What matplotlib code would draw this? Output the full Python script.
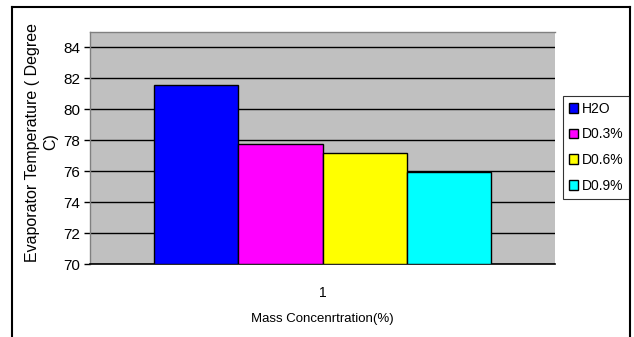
"""Grouped bar chart of evaporator temperature by nanofluid mass concentration."""

import matplotlib.pyplot as plt
import matplotlib as mpl
from matplotlib.lines import Line2D

# Data: one concentration group, four fluids
GROUPS = [1]
SERIES = ["H2O", "D0.3%", "D0.6%", "D0.9%"]
VALUES = [81.6, 77.75, 77.2, 75.95]
COLORS = ["#0000FF", "#FF00FF", "#FFFF00", "#00FFFF"]

Y_TICKS = [70, 72, 74, 76, 78, 80, 82, 84]

W, H, DPI = 634, 337, 100


def main() -> None:
    mpl.rcParams.update(
        {
            "font.family": ["Liberation Sans", "DejaVu Sans"],
            "font.size": 10,
            "figure.facecolor": "white",
        }
    )

    fig = plt.figure(figsize=(W / DPI, H / DPI), dpi=DPI)
    ax = fig.add_axes([90 / W, 1 - 264 / H, 465 / W, 232 / H])
    ax.set_facecolor("#C0C0C0")

    bar_w = 84.5 / 465 * 1.6  # width in data units for xlim span of 1.6
    n = len(SERIES)
    for i, (name, val, col) in enumerate(zip(SERIES, VALUES, COLORS)):
        offset = (i - (n - 1) / 2) * bar_w
        ax.bar(
            [g + offset for g in GROUPS],
            [val - 70],
            bottom=70,
            width=bar_w,
            color=col,
            edgecolor="black",
            linewidth=1.0,
            label=name,
            zorder=3,
        )

    ax.set_xlim(0.2, 1.8)
    ax.set_ylim(70, 85)
    ax.set_yticks(Y_TICKS)
    ax.set_xticks(GROUPS)
    ax.set_xticklabels([str(g) for g in GROUPS])
    ax.tick_params(axis="y", length=4, width=1, direction="out", pad=3, labelsize=11)
    ax.tick_params(axis="x", length=0, pad=16, labelsize=10)
    ax.grid(axis="y", color="black", linewidth=1.0, zorder=1)
    ax.set_axisbelow(True)

    for side in ("top", "left", "right"):
        ax.spines[side].set_color("#808080")
        ax.spines[side].set_linewidth(1.0)
    ax.spines["right"].set_visible(False)
    ax.spines["bottom"].set_color("black")
    ax.spines["bottom"].set_linewidth(1.2)

    fig.text(
        42 / W,
        1 - 142 / H,
        "Evaporator Temperature ( Degree\nC)",
        rotation=90,
        ha="center",
        va="center",
        multialignment="center",
        fontsize=11.5,
        linespacing=1.25,
    )
    ax.set_xlabel("Mass Concenrtration(%)", fontsize=9.5, labelpad=9)

    leg = fig.legend(
        loc="upper left",
        bbox_to_anchor=(563 / W, 1 - 96 / H),
        frameon=True,
        fancybox=False,
        edgecolor="black",
        fontsize=10,
        handlelength=0.7,
        handleheight=0.7,
        handletextpad=0.25,
        labelspacing=0.85,
        borderpad=0.4,
        borderaxespad=0,
    )
    leg.get_frame().set_linewidth(0.8)

    # outer chart border (open at the bottom)
    fig.add_artist(Line2D([12 / W, 12 / W], [0, 1 - 7 / H], color="black",
                          linewidth=1.5, transform=fig.transFigure))
    fig.add_artist(Line2D([12 / W, 630 / W], [1 - 7 / H, 1 - 7 / H], color="black",
                          linewidth=1.5, transform=fig.transFigure))
    fig.add_artist(Line2D([630 / W, 630 / W], [0, 1 - 7 / H], color="black",
                          linewidth=1.5, transform=fig.transFigure))

    fig.savefig("out.png", dpi=DPI)
    plt.close(fig)


if __name__ == "__main__":
    main()
